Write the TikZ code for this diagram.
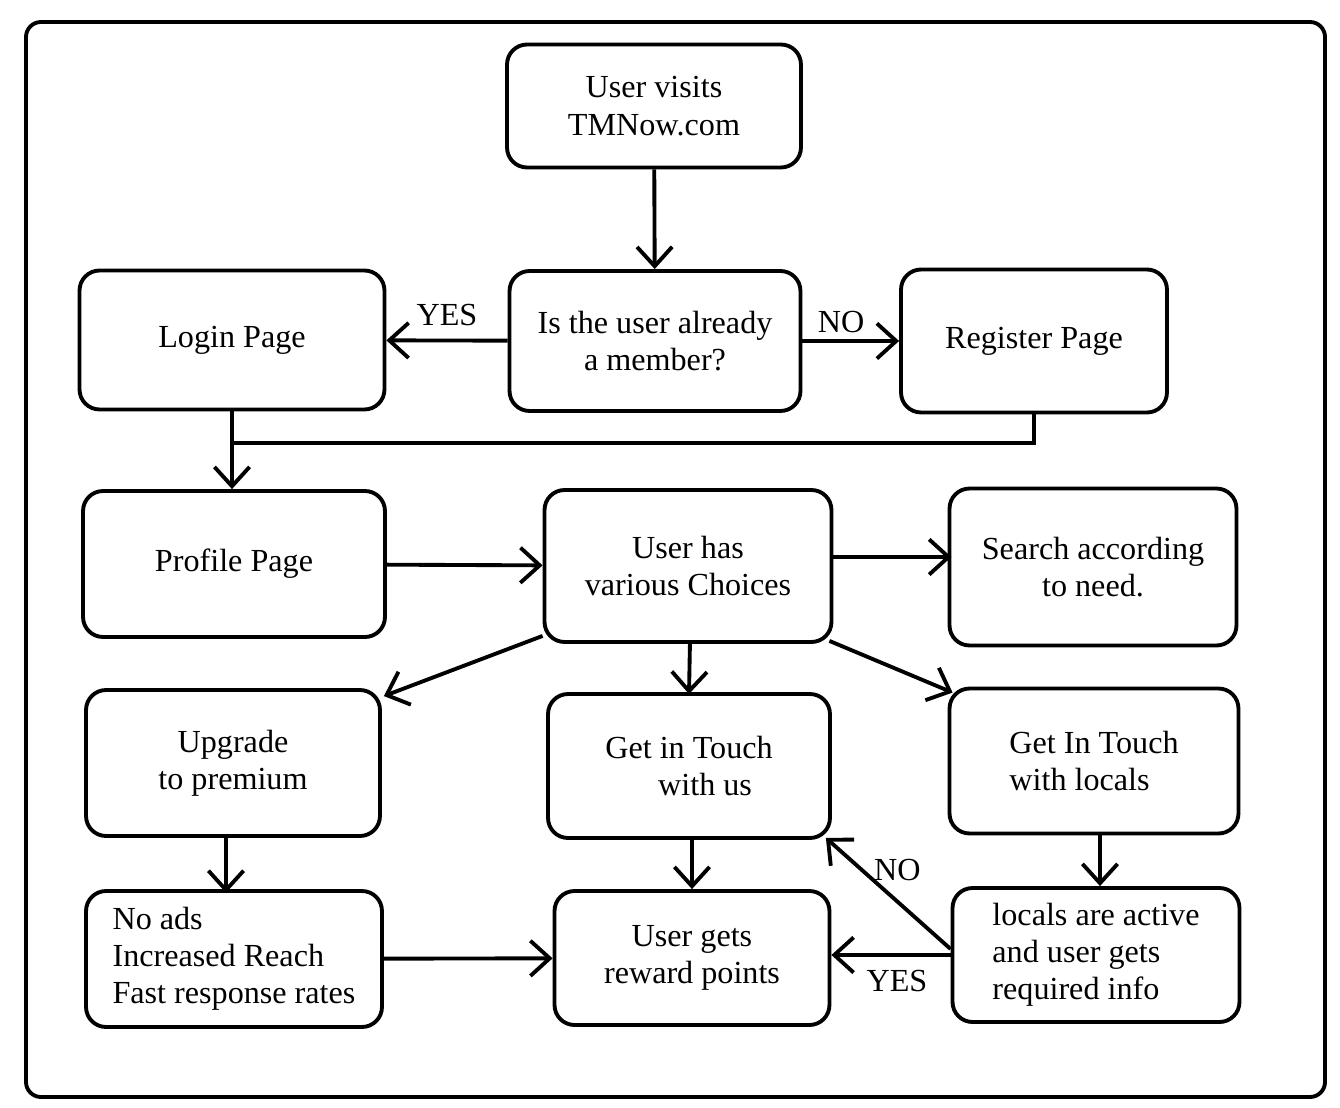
\documentclass[tikz,border=0pt]{standalone}
\usepackage{fontspec}
\setmainfont{Liberation Serif}
\usetikzlibrary{arrows.meta, calc}

\begin{document}
\begin{tikzpicture}[x=0.02cm, y=-0.02cm, line width=2.2pt,
    box/.style = {draw, rectangle, rounded corners=0.4cm, align=center,
        font=\fontsize{18.3}{21.2}\selectfont, inner sep=0pt},
    flow/.style = {-{Straight Barb[length=11pt, width=20pt]}},
    lbl/.style = {font=\fontsize{18.3}{21.2}\selectfont}]
    \useasboundingbox (0,0) rectangle (1340,1108);
    \draw[rounded corners=0.3cm] (26,22) rectangle (1325,1097);

    \node[box, minimum width=5.88cm, minimum height=2.46cm] (visit) at (654,106) {User visits\\TMNow.com};
    \node[box, minimum width=5.82cm, minimum height=2.80cm] (member) at (655,341) {Is the user already\\a member?};
    \node[box, minimum width=6.10cm, minimum height=2.78cm] (login) at (232,340) {Login Page};
    \node[box, minimum width=5.32cm, minimum height=2.86cm] (register) at (1034,341) {Register Page};

    \node[box, minimum width=6.04cm, minimum height=2.92cm] (profile) at (234,564) {Profile Page};
    \node[box, minimum width=5.74cm, minimum height=3.04cm] (choices) at (688,566) {User has\\various Choices};
    \node[box, minimum width=5.74cm, minimum height=3.14cm] (search) at (1093,567) {Search according\\to need.};

    \node[box, minimum width=5.88cm, minimum height=2.92cm] (upgrade) at (233,763) {Upgrade\\to premium};
    \node[box, minimum width=5.64cm, minimum height=2.88cm] (touchus) at (689,766) {Get in Touch\\\hspace{1em}with us};
    \node[box, minimum width=5.78cm, minimum height=2.90cm, align=left] (locals) at (1094,761) {Get In Touch\\with locals};

    \node[box, minimum width=5.92cm, minimum height=2.72cm, align=left] (noads) at (234,959) {No ads\\Increased Reach\\Fast response rates};
    \node[box, minimum width=5.50cm, minimum height=2.68cm] (reward) at (692,958) {User gets\\reward points};
    \node[box, minimum width=5.74cm, minimum height=2.68cm, align=left] (active) at (1096,955) {locals are active\\and user gets\\required info};

    % top part
    \draw[flow] (visit) -- (member);
    \draw[flow] (member) -- node[lbl, above, pos=0.5, yshift=4pt] {YES} (login);
    \draw[flow] (member) -- node[lbl, above, pos=0.4] {NO} (register);
    \coordinate (join) at (login.south |- 0,443);
    \draw (register.south) |- (join);
    \draw[flow] (login.south) -- (profile.north -| login.south);

    % middle part
    \draw[flow] (profile) -- (choices);
    \draw[flow] (choices.east |- search.west) ++(0,-10) -- ++(118,0);
    \draw[flow] (choices.south west) ++(0,-8) -- ($(upgrade.north east)+(2,8)$);
    \draw[flow] (choices.south |- 0,641) ++(2,0) -- (touchus.north |- 0,694);
    \draw[flow] (choices.south east) ++(-4,-3) -- ($(locals.north west)+(5,6)$);

    % bottom part
    \draw[flow] (upgrade.south) ++(-7,0) -- ++(0,55);
    \draw[flow] (touchus.south) ++(3,0) -- (reward.north);
    \draw[flow] (locals.south) ++(6,0) -- (active.north -| 1100,0);
    \draw[flow] (noads) -- (reward);
    \draw[flow] (active.west) -- node[lbl, below, pos=0.45, yshift=-4pt] {YES} (reward.east |- active.west);
    \draw[flow] (active.west) ++(0,-6) -- node[lbl, above right, pos=0.45, xshift=-16pt, yshift=6pt] {NO} ($(touchus.south east)+(-6,-2)$);
\end{tikzpicture}
\end{document}
